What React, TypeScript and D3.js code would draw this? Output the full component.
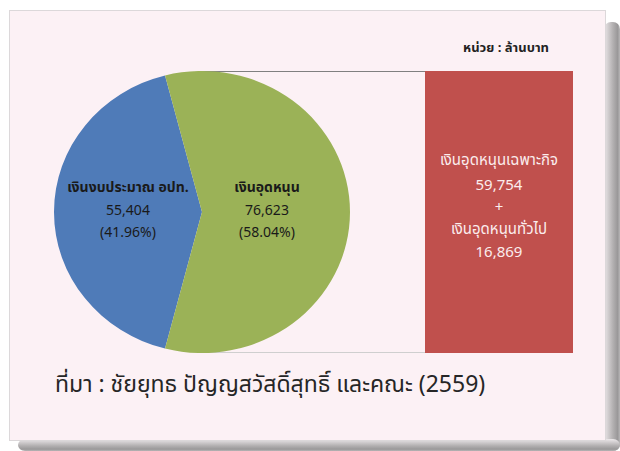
import React, { useMemo } from "react";
import { pie, arc, scaleLinear, format, sum } from "d3";

// main split (ล้านบาท)
const categories = ["เงินงบประมาณ อปท.", "เงินอุดหนุน"];
const values = [55404, 76623];
const sliceColors = ["#4F7BB8", "#9BB257"];

// breakdown of เงินอุดหนุน
const subCategories = ["เงินอุดหนุนเฉพาะกิจ", "เงินอุดหนุนทั่วไป"];
const subValues = [59754, 16869];

const unitLabel = "หน่วย : ล้านบาท";
const sourceLabel = "ที่มา : ชัยยุทธ ปัญญสวัสดิ์สุทธิ์ และคณะ (2559)";

const W = 620;
const H = 451;
const thaiFont = "Tahoma, 'Leelawadee UI', 'Noto Sans Thai', 'Noto Sans', sans-serif";

const App = () => {
    const cx = 202;
    const cy = 212;
    const ry = 141;
    const rx = 148;

    const total = sum(values);
    const comma = format(",");
    const pct = (v: number) => `(${((v / total) * 100).toFixed(2)}%)`;

    // green slice centred on the right-hand side
    const arcs = useMemo(() => {
        const g = (values[1] / total) * Math.PI * 2;
        const start = Math.PI / 2 + g / 2;
        return pie<number>()
            .sort(null)
            .startAngle(start)
            .endAngle(start + Math.PI * 2)(values);
    }, [total]);

    const arcGen = arc<any>().innerRadius(0).outerRadius(ry);

    // bar for the subsidy total
    const barX0 = 425;
    const barX1 = 573;
    const y = scaleLinear().domain([0, sum(subValues)]).range([cy + ry, cy - ry]);
    const barTop = y(sum(subValues));
    const barBottom = y(0);
    const barCx = (barX0 + barX1) / 2;

    const barLines = [
        { t: subCategories[0], y: 165 },
        { t: comma(subValues[0]), y: 190 },
        { t: "+", y: 212 },
        { t: subCategories[1], y: 234 },
        { t: comma(subValues[1]), y: 257 },
    ];

    const labelX = [128, 267];

    return (
        <svg
            width={W}
            height={H}
            style={{ position: "absolute", left: 0, top: 0, display: "block" }}
        >
            <defs>
                <linearGradient id="shR" x1="0" x2="1" y1="0" y2="0">
                    <stop offset="0" stopColor="#ece8ea" />
                    <stop offset="0.55" stopColor="#b4b1b2" />
                    <stop offset="0.85" stopColor="#9a9899" />
                    <stop offset="1" stopColor="#b8b6b7" />
                </linearGradient>
                <linearGradient id="shB" x1="0" x2="0" y1="0" y2="1">
                    <stop offset="0" stopColor="#ece8ea" />
                    <stop offset="0.55" stopColor="#b4b1b2" />
                    <stop offset="0.85" stopColor="#9a9899" />
                    <stop offset="1" stopColor="#b8b6b7" />
                </linearGradient>
            </defs>
            <rect width={W} height={H} fill="#ffffff" />
            {/* card shadow */}
            <rect x={604} y={22} width={16} height={H - 22} rx={7} fill="url(#shR)" />
            <rect x={18} y={439} width={W - 18} height={12} rx={7} fill="url(#shB)" />
            {/* card */}
            <rect x={9.5} y={10.5} width={596} height={430} fill="#FCF1F5" stroke="#dcd8da" />

            <text
                x={506}
                y={52}
                textAnchor="middle"
                fontFamily={thaiFont}
                fontSize={13}
                fontWeight="bold"
                fill="#222"
            >
                {unitLabel}
            </text>

            {/* connector lines to the bar */}
            <line x1={cx} x2={barX0} y1={barTop + 0.5} y2={barTop + 0.5} stroke="#808080" />
            <line x1={cx} x2={barX0} y1={barBottom - 0.5} y2={barBottom - 0.5} stroke="#cfcfcf" />

            <g transform={`translate(${cx},${cy}) scale(${rx / ry},1)`}>
                {arcs.map((a, i) => (
                    <path key={categories[i]} d={arcGen(a) as string} fill={sliceColors[i]} />
                ))}
            </g>

            <rect
                x={barX0}
                y={barTop}
                width={barX1 - barX0}
                height={barBottom - barTop}
                fill="#C0504D"
            />

            {categories.map((c, i) => (
                <g key={c} fontFamily={thaiFont} fontSize={14} fill="#1a1a1a" textAnchor="middle">
                    <text x={labelX[i]} y={192} fontWeight="bold">
                        {c}
                    </text>
                    <text x={labelX[i]} y={215}>
                        {comma(values[i])}
                    </text>
                    <text x={labelX[i]} y={237}>
                        {pct(values[i])}
                    </text>
                </g>
            ))}

            <g fontFamily={thaiFont} fontSize={15} fill="#FBEDED" textAnchor="middle">
                {barLines.map((l, i) => (
                    <text key={i} x={barCx} y={l.y}>
                        {l.t}
                    </text>
                ))}
            </g>

            <text
                x={55}
                y={392}
                fontFamily={thaiFont}
                fontSize={23}
                fill="#262626"
            >
                {sourceLabel}
            </text>
        </svg>
    );
};

export default App;
